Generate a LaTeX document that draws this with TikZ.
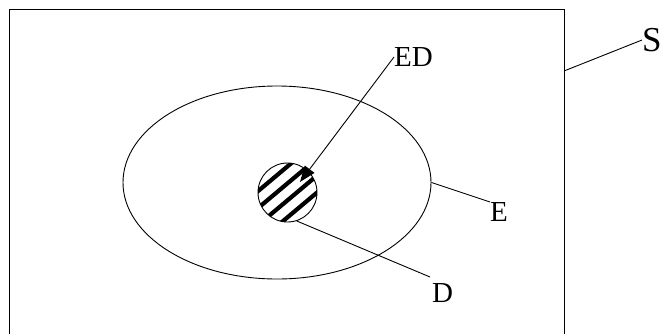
\documentclass[tikz,border=0pt]{standalone}
\usepackage{fontspec}
\setmainfont{Liberation Serif}
\usetikzlibrary{shapes.geometric,arrows.meta,calc}
\begin{document}
\begin{tikzpicture}[x=1pt,y=-1pt,
  thinline/.style={line width=0.9pt},
  lbl/.style={inner sep=0pt,font=\fontsize{29}{29}\selectfont},
  stripe/.style={line width=4.2pt}]
\useasboundingbox (0,0) rectangle (662,333);
\begin{scope}
\clip (0,0) rectangle (662,333);
\node[draw,thinline,rectangle,minimum width=555pt,minimum height=340pt,inner sep=0pt,anchor=north west] (sys) at (9,9) {};
\end{scope}
\node[draw,thinline,ellipse,minimum width=308pt,minimum height=193pt,inner sep=0pt] (ell) at (277,182.5) {};
% hatched circle
\begin{scope}
\clip (287.5,192.5) circle (29.5);
\foreach \o in {-20,-7,6,19}{
  \draw[stripe] ($(287.5,192.5)+\o*(0.643,0.766)+40*(0.766,-0.643)$) -- ($(287.5,192.5)+\o*(0.643,0.766)-40*(0.766,-0.643)$);
}
\end{scope}
\node[draw,thinline,circle,minimum size=59pt,inner sep=0pt] (c) at (287.5,192.5) {};
% labels
\node[lbl,font=\fontsize{35}{35}\selectfont,anchor=west] (S) at (642,40) {S};
\node[lbl,anchor=west] (ED) at (394,57) {ED};
\node[lbl,anchor=north west] (E) at (490,202) {E};
\node[lbl,anchor=north west] (D) at (432,283) {D};
% connectors
\coordinate (sA) at (564,71);
\coordinate (tip) at (300,182);
\coordinate (Dend) at (430,277);
\draw[thinline] (sA) -- (S.west);
\draw[thinline,-{Triangle[length=16pt,width=12pt]}] (ED.west) -- (tip);
\draw[thinline] (ell.east) -- (E.north west);
\draw[thinline] (c.-72) -- (Dend);
\end{tikzpicture}
\end{document}
